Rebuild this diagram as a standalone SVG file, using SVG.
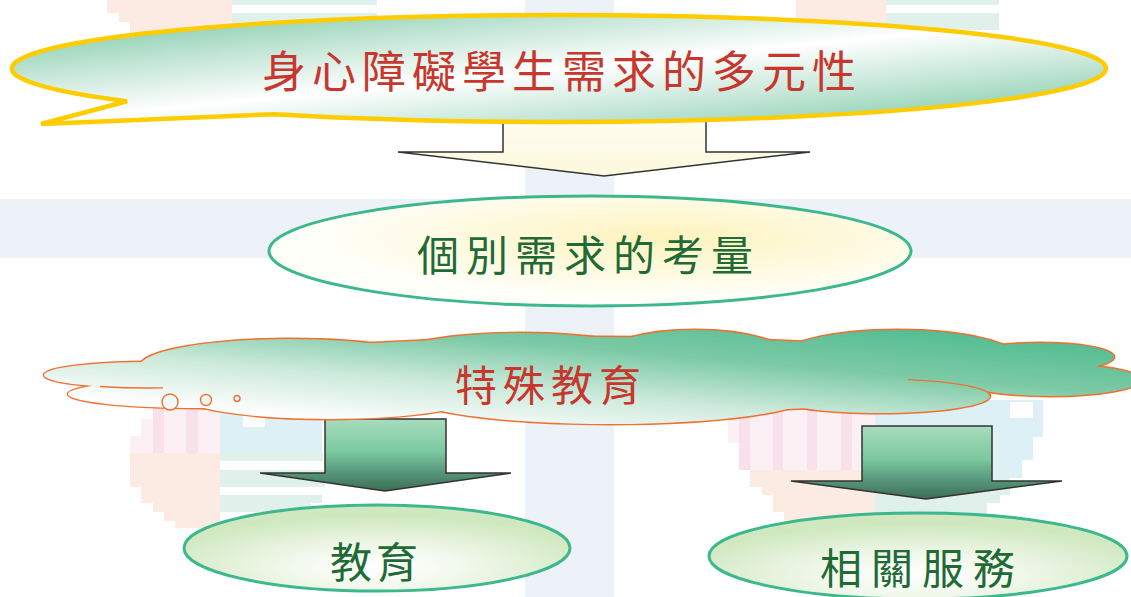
<svg xmlns="http://www.w3.org/2000/svg" xmlns:xlink="http://www.w3.org/1999/xlink" width="1131" height="597" viewBox="0 0 1131 597">
<style>
.red{fill:#c8372d;font-family:"Noto Sans CJK TC","Noto Sans CJK SC",sans-serif;}
.grn{fill:#1f6a35;font-family:"Noto Sans CJK TC","Noto Sans CJK SC",sans-serif;}
.band{fill:#edf2f9;}
.peach{fill:#fcebe2;}
.teal{fill:#e0f0ea;}
.pinkl{fill:#fcf0f5;}
.pinkd{fill:#f9e1ec;}
.lblue{fill:#ddf0f5;}
.white{fill:#ffffff;}
.oval{stroke:#3cb88c;stroke-width:3;}
.arrowG{fill:url(#gArrow);stroke:#333;stroke-width:1.5;stroke-linejoin:miter;}
.cloudStroke{fill:none;stroke:#f07030;stroke-width:2.8;}
.cloudFill{fill:url(#gCloud);stroke:none;}
.inner{fill:none;stroke:#f07030;stroke-width:1.4;}
</style>
<defs>
<linearGradient id="gCallout" x1="0" y1="0" x2="1" y2="1">
<stop offset="0" stop-color="#6fc49f"/>
<stop offset="0.3" stop-color="#c9e8da"/>
<stop offset="0.5" stop-color="#ffffff"/>
<stop offset="0.7" stop-color="#c9e8da"/>
<stop offset="1" stop-color="#6fc49f"/>
</linearGradient>
<linearGradient id="gArrow1" x1="0" y1="0" x2="0" y2="1">
<stop offset="0" stop-color="#fffef4"/>
<stop offset="1" stop-color="#fcf8dc"/>
</linearGradient>
<linearGradient id="gArrow" x1="0" y1="0" x2="0" y2="1">
<stop offset="0" stop-color="#a8dcbd"/>
<stop offset="0.45" stop-color="#7cc9a0"/>
<stop offset="0.75" stop-color="#55957a"/>
<stop offset="1" stop-color="#3d6e54"/>
</linearGradient>
<radialGradient id="gYellow" cx="0.62" cy="0.38" r="0.55">
<stop offset="0" stop-color="#fdf3bd"/>
<stop offset="1" stop-color="#fffffa"/>
</radialGradient>
<radialGradient id="gLeaf" cx="0.5" cy="0.72" r="0.6">
<stop offset="0" stop-color="#ffffff"/>
<stop offset="0.35" stop-color="#f3f9ee"/>
<stop offset="1" stop-color="#cfe8bf"/>
</radialGradient>
<linearGradient id="gCloud" gradientUnits="userSpaceOnUse" x1="1" y1="0" x2="0" y2="1" gradientTransform="matrix(1096 0 0 94 44 330)">
<stop offset="0" stop-color="#45b88a"/>
<stop offset="0.35" stop-color="#7ccaa5"/>
<stop offset="0.6" stop-color="#cdeadc"/>
<stop offset="0.85" stop-color="#ffffff"/>
</linearGradient>
<g id="cloudShape">
<ellipse cx="150" cy="375" rx="106" ry="13"/>
<ellipse cx="200" cy="394" rx="132" ry="14"/>
<ellipse cx="290" cy="366" rx="150" ry="27"/>
<ellipse cx="520" cy="362" rx="140" ry="29"/>
<ellipse cx="695" cy="358" rx="95" ry="28"/>
<ellipse cx="898" cy="360" rx="122" ry="30"/>
<ellipse cx="1040" cy="357" rx="74" ry="14"/>
<ellipse cx="1050" cy="380" rx="90" ry="16"/>
<ellipse cx="880" cy="396" rx="110" ry="17"/>
<ellipse cx="610" cy="396" rx="200" ry="28"/>
<ellipse cx="330" cy="395" rx="150" ry="24"/>
<ellipse cx="600" cy="375" rx="420" ry="38"/>
</g>
</defs>

<g id="background">
<rect class="band" x="0" y="199" width="1131" height="59"/>
<rect class="band" x="525" y="0" width="89" height="597"/>
<!-- top-left decor -->
<rect class="peach" x="107" y="0" width="125" height="13"/>
<rect class="peach" x="119" y="13" width="113" height="9"/>
<rect class="peach" x="130" y="22" width="102" height="22"/>
<rect class="teal" x="232" y="0" width="135" height="5"/>
<rect class="lblue" x="367" y="0" width="10" height="5"/>
<rect class="teal" x="232" y="13" width="145" height="30"/>
<!-- top-right decor -->
<rect class="peach" x="796" y="0" width="90" height="30"/>
<rect class="teal" x="886" y="0" width="113" height="5"/>
<rect class="teal" x="886" y="13" width="113" height="17"/>
<!-- lower-left decor -->
<rect class="pinkl" x="130" y="436" width="11" height="17"/>
<rect class="pinkl" x="141" y="419" width="12" height="34"/>
<rect class="pinkl" x="153" y="405" width="67" height="48"/>
<rect class="pinkd" x="153" y="405" width="11" height="48"/>
<rect class="pinkd" x="186" y="405" width="12" height="48"/>
<rect class="peach" x="130" y="453" width="90" height="34"/>
<rect class="peach" x="141" y="487" width="79" height="16"/>
<rect class="peach" x="153" y="503" width="67" height="9"/>
<rect class="peach" x="164" y="512" width="56" height="9"/>
<rect class="peach" x="175" y="521" width="45" height="7"/>
<rect class="lblue" x="220" y="405" width="102" height="48"/>
<rect class="white" x="243" y="405" width="22" height="22"/>
<rect class="teal" x="220" y="453" width="103" height="8"/>
<rect class="teal" x="220" y="470" width="105" height="17"/>
<rect class="teal" x="220" y="495" width="102" height="8"/>
<rect class="teal" x="220" y="503" width="91" height="9"/>
<!-- lower-right decor -->
<rect class="pinkl" x="728" y="405" width="11" height="38"/>
<rect class="pinkl" x="739" y="405" width="136" height="65"/>
<rect class="pinkd" x="739" y="405" width="11" height="65"/>
<rect class="pinkd" x="773" y="405" width="10" height="65"/>
<rect class="pinkd" x="807" y="405" width="10" height="65"/>
<rect class="pinkd" x="841" y="405" width="11" height="65"/>
<rect class="peach" x="750" y="470" width="125" height="17"/>
<rect class="peach" x="762" y="487" width="113" height="8"/>
<rect class="peach" x="773" y="495" width="102" height="17"/>
<rect class="peach" x="784" y="512" width="91" height="8"/>
<rect class="lblue" x="875" y="400" width="168" height="37"/>
<rect class="lblue" x="875" y="437" width="158" height="23"/>
<rect class="lblue" x="875" y="460" width="147" height="18"/>
<rect class="white" x="1010" y="402" width="23" height="16"/>
<rect class="teal" x="875" y="478" width="135" height="17"/>
<rect class="teal" x="875" y="495" width="125" height="8"/>
<rect class="teal" x="875" y="503" width="112" height="14"/>
</g>

<g id="connectors">
<path id="arrow1" d="M503,110 L706,110 L706,152 L810,152 L604,176 L398,152 L503,152 Z" fill="url(#gArrow1)" stroke="#333" stroke-width="1.5"/>
<path id="arrow2" class="arrowG" d="M325,419 L446,419 L446,473 L511,473 L385,491 L260,473 L325,473 Z"/>
<path id="arrow3" class="arrowG" d="M862,426 L992,426 L992,481 L1062,481 L926,499 L791,481 L862,481 Z"/>
</g>

<g id="node-callout">
<path d="M127,101.3 A547,53.5 0 1 1 275,114.2 L41,124 Z" fill="url(#gCallout)" stroke="#ffcc00" stroke-width="4.5" stroke-linejoin="miter"/>
<text class="red" x="262" y="88" font-size="44" letter-spacing="6">身心障礙學生需求的多元性</text>
</g>

<g id="node-individual">
<ellipse class="oval" cx="590" cy="251" rx="321" ry="55" fill="url(#gYellow)"/>
<text class="grn" x="417" y="271" font-size="42" letter-spacing="7">個別需求的考量</text>
</g>

<g id="node-special">
<use xlink:href="#cloudShape" class="cloudStroke"/>
<use xlink:href="#cloudShape" class="cloudFill"/>
<path class="inner" d="M100,386.5 A106,13 0 0 0 163,387.9"/>
<path class="inner" d="M908,379.6 A110,17 0 0 1 990,396"/>
<circle cx="170" cy="402" r="8" fill="#f3f9f6" stroke="#f07030" stroke-width="1.4"/>
<circle cx="206" cy="400" r="5.5" fill="#f3f9f6" stroke="#f07030" stroke-width="1.4"/>
<circle cx="237" cy="398.5" r="3" fill="#f3f9f6" stroke="#f07030" stroke-width="1.4"/>
<text class="red" x="455" y="401" font-size="42" letter-spacing="6">特殊教育</text>
</g>

<g id="node-education">
<ellipse class="oval" cx="377" cy="548" rx="193" ry="43" fill="url(#gLeaf)"/>
<text class="grn" x="330" y="578" font-size="42" letter-spacing="4">教育</text>
</g>

<g id="node-services">
<ellipse class="oval" cx="918" cy="556" rx="209" ry="43" fill="url(#gLeaf)"/>
<text class="grn" x="820" y="584" font-size="42" letter-spacing="9">相關服務</text>
</g>
</svg>
